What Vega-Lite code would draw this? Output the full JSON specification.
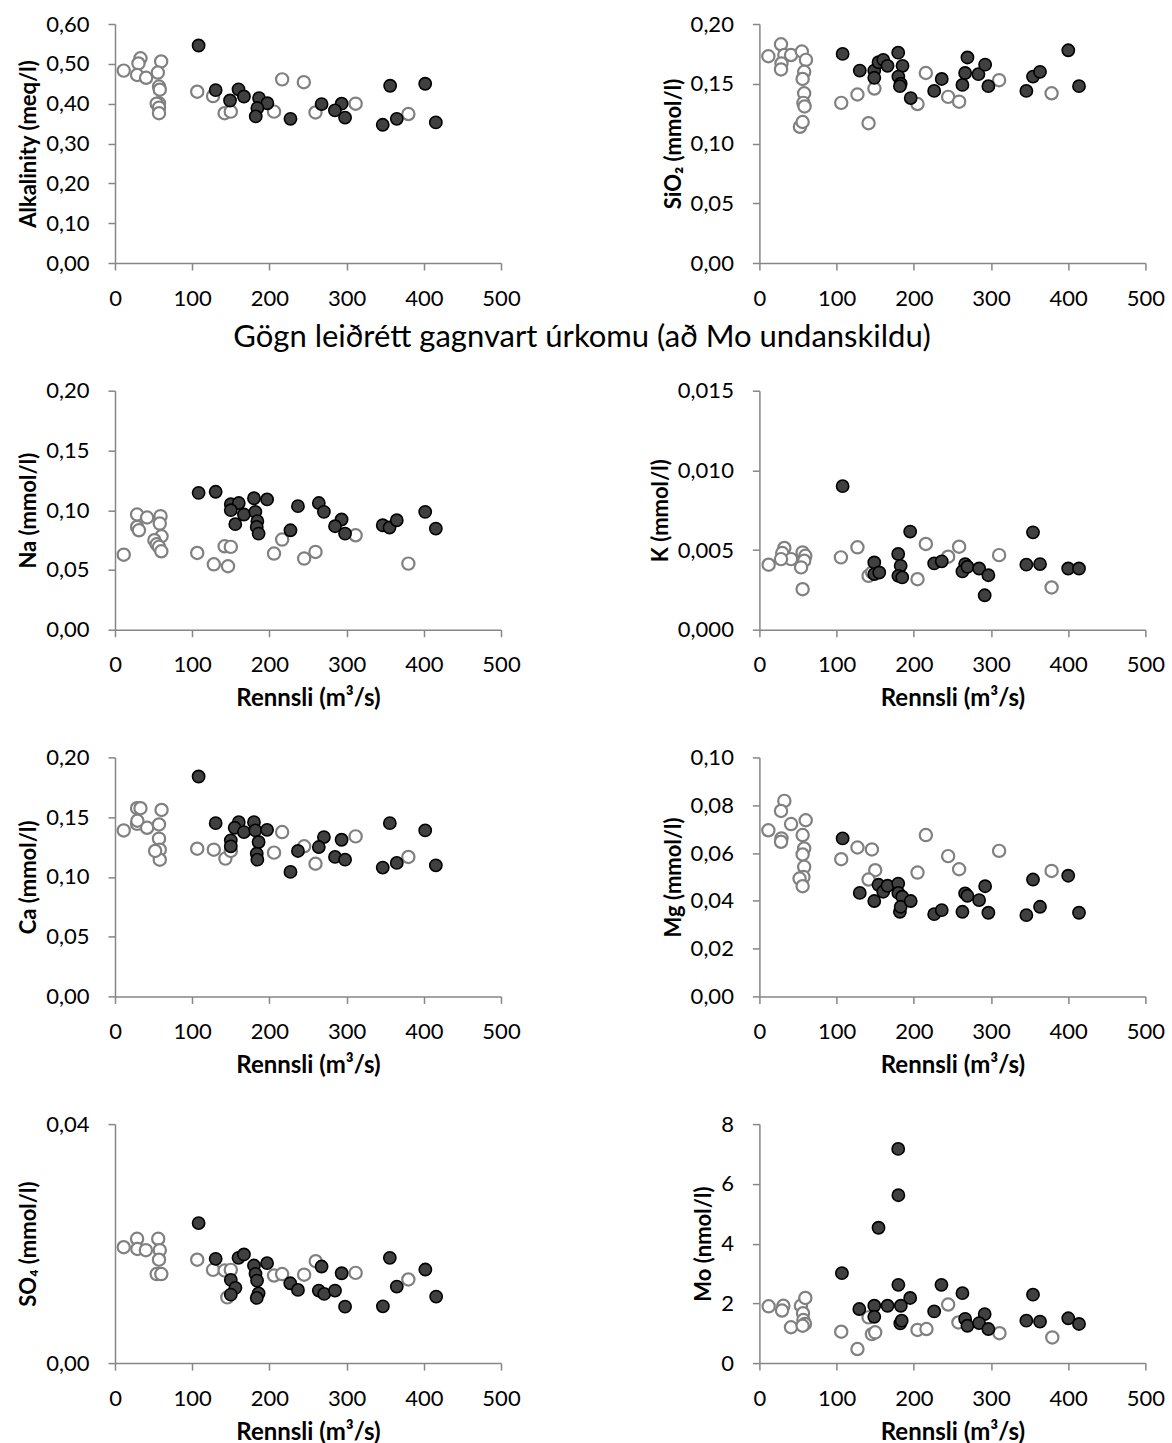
{
  "$schema": "https://vega.github.io/schema/vega-lite/v6.json",
  "padding": {"left": 17, "top": 13, "right": 0, "bottom": 0},
  "background": "#ffffff",
  "config": {
    "view": {"stroke": null},
    "font": "Lato",
    "axis": {
      "grid": false,
      "domainColor": "#868686",
      "domainWidth": 1.5,
      "tickColor": "#868686",
      "tickWidth": 1.5,
      "tickSize": 7,
      "labelFont": "Lato",
      "labelFontSize": 22,
      "labelColor": "#000000",
      "labelOverlap": false,
      "labelFlush": false,
      "labelBound": false,
      "titleFont": "Lato",
      "titleFontSize": 22,
      "titleFontWeight": "bold",
      "titleColor": "#000000"
    },
    "axisY": {"labelPadding": 19, "titlePadding": 5},
    "axisX": {"labelPadding": 18, "titlePadding": 11, "titleFontSize": 24},
    "title": {"font": "Lato", "fontSize": 31, "fontWeight": "normal", "color": "#000000"}
  },
  "datasets": {
    "A": [
      {"x": 11.3, "v": 0.483, "g": "o"}, {"x": 33, "v": 0.514, "g": "o"}, {"x": 30.4, "v": 0.501, "g": "o"}, {"x": 28.6, "v": 0.472, "g": "o"}, {"x": 40.3, "v": 0.465, "g": "o"}, {"x": 59.8, "v": 0.506, "g": "o"}, {"x": 55.5, "v": 0.478, "g": "o"}, {"x": 57, "v": 0.443, "g": "o"}, {"x": 58, "v": 0.435, "g": "o"}, {"x": 57, "v": 0.401, "g": "o"}, {"x": 54, "v": 0.40, "g": "o"}, {"x": 57, "v": 0.39, "g": "o"}, {"x": 57, "v": 0.376, "g": "o"}, {"x": 106.5, "v": 0.430, "g": "o"}, {"x": 127, "v": 0.419, "g": "o"}, {"x": 142, "v": 0.376, "g": "o"}, {"x": 150, "v": 0.380, "g": "o"}, {"x": 206, "v": 0.38, "g": "o"}, {"x": 216.5, "v": 0.461, "g": "o"}, {"x": 244.6, "v": 0.454, "g": "o"}, {"x": 259.7, "v": 0.378, "g": "o"}, {"x": 311.7, "v": 0.40, "g": "o"}, {"x": 380, "v": 0.374, "g": "o"},
      {"x": 108.3, "v": 0.546, "g": "f"}, {"x": 130.4, "v": 0.434, "g": "f"}, {"x": 160, "v": 0.436, "g": "f"}, {"x": 149, "v": 0.408, "g": "f"}, {"x": 167, "v": 0.418, "g": "f"}, {"x": 186.6, "v": 0.414, "g": "f"}, {"x": 197.4, "v": 0.401, "g": "f"}, {"x": 184.4, "v": 0.389, "g": "f"}, {"x": 182.3, "v": 0.368, "g": "f"}, {"x": 227.3, "v": 0.362, "g": "f"}, {"x": 267.6, "v": 0.399, "g": "f"}, {"x": 293.6, "v": 0.40, "g": "f"}, {"x": 284.9, "v": 0.383, "g": "f"}, {"x": 298, "v": 0.365, "g": "f"}, {"x": 346.8, "v": 0.347, "g": "f"}, {"x": 365, "v": 0.362, "g": "f"}, {"x": 356.4, "v": 0.445, "g": "f"}, {"x": 401.8, "v": 0.45, "g": "f"}, {"x": 415.6, "v": 0.353, "g": "f"}
    ],
    "S": [
      {"x": 11.6, "v": 0.173, "g": "o"}, {"x": 28, "v": 0.183, "g": "o"}, {"x": 32.3, "v": 0.174, "g": "o"}, {"x": 41, "v": 0.174, "g": "o"}, {"x": 28.6, "v": 0.167, "g": "o"}, {"x": 28, "v": 0.162, "g": "o"}, {"x": 55, "v": 0.177, "g": "o"}, {"x": 60.3, "v": 0.170, "g": "o"}, {"x": 58, "v": 0.160, "g": "o"}, {"x": 56, "v": 0.154, "g": "o"}, {"x": 58, "v": 0.142, "g": "o"}, {"x": 57, "v": 0.134, "g": "o"}, {"x": 58.5, "v": 0.131, "g": "o"}, {"x": 52.5, "v": 0.114, "g": "o"}, {"x": 56, "v": 0.118, "g": "o"}, {"x": 106, "v": 0.134, "g": "o"}, {"x": 127, "v": 0.141, "g": "o"}, {"x": 149, "v": 0.146, "g": "o"}, {"x": 141.4, "v": 0.117, "g": "o"}, {"x": 204.8, "v": 0.133, "g": "o"}, {"x": 215.6, "v": 0.159, "g": "o"}, {"x": 244.5, "v": 0.139, "g": "o"}, {"x": 258.7, "v": 0.135, "g": "o"}, {"x": 310.5, "v": 0.153, "g": "o"}, {"x": 378.5, "v": 0.142, "g": "o"},
      {"x": 107.8, "v": 0.175, "g": "f"}, {"x": 130, "v": 0.161, "g": "f"}, {"x": 148.8, "v": 0.161, "g": "f"}, {"x": 148.8, "v": 0.155, "g": "f"}, {"x": 154.3, "v": 0.168, "g": "f"}, {"x": 160.4, "v": 0.170, "g": "f"}, {"x": 166, "v": 0.165, "g": "f"}, {"x": 179.8, "v": 0.176, "g": "f"}, {"x": 185.4, "v": 0.165, "g": "f"}, {"x": 180, "v": 0.156, "g": "f"}, {"x": 183, "v": 0.150, "g": "f"}, {"x": 182, "v": 0.148, "g": "f"}, {"x": 196, "v": 0.138, "g": "f"}, {"x": 226.4, "v": 0.144, "g": "f"}, {"x": 236.2, "v": 0.154, "g": "f"}, {"x": 263, "v": 0.149, "g": "f"}, {"x": 266.5, "v": 0.159, "g": "f"}, {"x": 269.5, "v": 0.172, "g": "f"}, {"x": 283.7, "v": 0.158, "g": "f"}, {"x": 292.4, "v": 0.166, "g": "f"}, {"x": 296.6, "v": 0.148, "g": "f"}, {"x": 345.8, "v": 0.144, "g": "f"}, {"x": 354.4, "v": 0.156, "g": "f"}, {"x": 363.5, "v": 0.160, "g": "f"}, {"x": 400.1, "v": 0.178, "g": "f"}, {"x": 414, "v": 0.148, "g": "f"}
    ],
    "N": [
      {"x": 11.3, "v": 0.0628, "g": "o"}, {"x": 28.6, "v": 0.0964, "g": "o"}, {"x": 41.6, "v": 0.0939, "g": "o"}, {"x": 28.6, "v": 0.086, "g": "o"}, {"x": 31, "v": 0.0832, "g": "o"}, {"x": 59, "v": 0.095, "g": "o"}, {"x": 58, "v": 0.0888, "g": "o"}, {"x": 60.3, "v": 0.0782, "g": "o"}, {"x": 51, "v": 0.0749, "g": "o"}, {"x": 54, "v": 0.0715, "g": "o"}, {"x": 57, "v": 0.0693, "g": "o"}, {"x": 60, "v": 0.0656, "g": "o"}, {"x": 106.5, "v": 0.0642, "g": "o"}, {"x": 128, "v": 0.0547, "g": "o"}, {"x": 142, "v": 0.0698, "g": "o"}, {"x": 150, "v": 0.0693, "g": "o"}, {"x": 146.4, "v": 0.0531, "g": "o"}, {"x": 206, "v": 0.0637, "g": "o"}, {"x": 216.5, "v": 0.0754, "g": "o"}, {"x": 245, "v": 0.0595, "g": "o"}, {"x": 259.7, "v": 0.0651, "g": "o"}, {"x": 311.7, "v": 0.079, "g": "o"}, {"x": 380, "v": 0.0553, "g": "o"},
      {"x": 108.3, "v": 0.1145, "g": "f"}, {"x": 130.4, "v": 0.1154, "g": "f"}, {"x": 150, "v": 0.105, "g": "f"}, {"x": 160.3, "v": 0.106, "g": "f"}, {"x": 150, "v": 0.100, "g": "f"}, {"x": 180, "v": 0.110, "g": "f"}, {"x": 197, "v": 0.109, "g": "f"}, {"x": 167, "v": 0.0964, "g": "f"}, {"x": 181.8, "v": 0.0986, "g": "f"}, {"x": 155.8, "v": 0.0883, "g": "f"}, {"x": 184.4, "v": 0.0908, "g": "f"}, {"x": 183.6, "v": 0.086, "g": "f"}, {"x": 186, "v": 0.0804, "g": "f"}, {"x": 237, "v": 0.1034, "g": "f"}, {"x": 227.3, "v": 0.0832, "g": "f"}, {"x": 264, "v": 0.106, "g": "f"}, {"x": 270.6, "v": 0.0986, "g": "f"}, {"x": 293.5, "v": 0.0922, "g": "f"}, {"x": 285, "v": 0.0866, "g": "f"}, {"x": 298, "v": 0.0804, "g": "f"}, {"x": 346.8, "v": 0.0874, "g": "f"}, {"x": 355.6, "v": 0.0855, "g": "f"}, {"x": 365, "v": 0.0916, "g": "f"}, {"x": 401.8, "v": 0.0986, "g": "f"}, {"x": 415.6, "v": 0.0846, "g": "f"}
    ],
    "K": [
      {"x": 12, "v": 0.00408, "g": "o"}, {"x": 32.3, "v": 0.00513, "g": "o"}, {"x": 29.6, "v": 0.00481, "g": "o"}, {"x": 41, "v": 0.00443, "g": "o"}, {"x": 28, "v": 0.00443, "g": "o"}, {"x": 56, "v": 0.00485, "g": "o"}, {"x": 59.5, "v": 0.00464, "g": "o"}, {"x": 58, "v": 0.00433, "g": "o"}, {"x": 54, "v": 0.00391, "g": "o"}, {"x": 56, "v": 0.00254, "g": "o"}, {"x": 105.6, "v": 0.00454, "g": "o"}, {"x": 127, "v": 0.00517, "g": "o"}, {"x": 141.4, "v": 0.00338, "g": "o"}, {"x": 146, "v": 0.00359, "g": "o"}, {"x": 204.8, "v": 0.00317, "g": "o"}, {"x": 215.6, "v": 0.00538, "g": "o"}, {"x": 244.5, "v": 0.00458, "g": "o"}, {"x": 258.7, "v": 0.00521, "g": "o"}, {"x": 310.5, "v": 0.00468, "g": "o"}, {"x": 378.5, "v": 0.00265, "g": "o"},
      {"x": 107.8, "v": 0.00901, "g": "f"}, {"x": 195.3, "v": 0.00616, "g": "f"}, {"x": 354.4, "v": 0.00611, "g": "f"}, {"x": 148.8, "v": 0.00422, "g": "f"}, {"x": 179.8, "v": 0.00475, "g": "f"}, {"x": 183, "v": 0.00401, "g": "f"}, {"x": 148.8, "v": 0.00349, "g": "f"}, {"x": 155.2, "v": 0.00359, "g": "f"}, {"x": 180, "v": 0.00338, "g": "f"}, {"x": 185, "v": 0.00328, "g": "f"}, {"x": 226.4, "v": 0.00416, "g": "f"}, {"x": 236.2, "v": 0.00429, "g": "f"}, {"x": 266.5, "v": 0.00412, "g": "f"}, {"x": 263, "v": 0.00366, "g": "f"}, {"x": 269.5, "v": 0.00395, "g": "f"}, {"x": 284.6, "v": 0.00384, "g": "f"}, {"x": 296.6, "v": 0.00342, "g": "f"}, {"x": 291.8, "v": 0.00216, "g": "f"}, {"x": 345.8, "v": 0.00408, "g": "f"}, {"x": 363.5, "v": 0.00412, "g": "f"}, {"x": 400, "v": 0.00384, "g": "f"}, {"x": 414, "v": 0.00384, "g": "f"}
    ],
    "C": [
      {"x": 11.3, "v": 0.1389, "g": "o"}, {"x": 28.6, "v": 0.1575, "g": "o"}, {"x": 33, "v": 0.1575, "g": "o"}, {"x": 28.6, "v": 0.1444, "g": "o"}, {"x": 29, "v": 0.147, "g": "o"}, {"x": 41.6, "v": 0.1411, "g": "o"}, {"x": 60.3, "v": 0.156, "g": "o"}, {"x": 57, "v": 0.1439, "g": "o"}, {"x": 57, "v": 0.132, "g": "o"}, {"x": 58, "v": 0.1228, "g": "o"}, {"x": 58, "v": 0.1144, "g": "o"}, {"x": 52, "v": 0.1217, "g": "o"}, {"x": 106.5, "v": 0.1236, "g": "o"}, {"x": 128, "v": 0.1228, "g": "o"}, {"x": 143, "v": 0.1153, "g": "o"}, {"x": 150, "v": 0.1217, "g": "o"}, {"x": 216.5, "v": 0.1375, "g": "o"}, {"x": 206, "v": 0.1203, "g": "o"}, {"x": 245, "v": 0.1256, "g": "o"}, {"x": 259.7, "v": 0.111, "g": "o"}, {"x": 311.7, "v": 0.1339, "g": "o"}, {"x": 380, "v": 0.1167, "g": "o"},
      {"x": 108.3, "v": 0.184, "g": "f"}, {"x": 130.4, "v": 0.145, "g": "f"}, {"x": 160.3, "v": 0.1458, "g": "f"}, {"x": 155, "v": 0.1411, "g": "f"}, {"x": 167, "v": 0.1375, "g": "f"}, {"x": 180, "v": 0.1458, "g": "f"}, {"x": 181.8, "v": 0.1389, "g": "f"}, {"x": 197, "v": 0.1394, "g": "f"}, {"x": 150, "v": 0.1306, "g": "f"}, {"x": 150, "v": 0.1256, "g": "f"}, {"x": 186, "v": 0.1292, "g": "f"}, {"x": 183.6, "v": 0.1194, "g": "f"}, {"x": 184.4, "v": 0.1144, "g": "f"}, {"x": 237, "v": 0.1217, "g": "f"}, {"x": 227.3, "v": 0.1042, "g": "f"}, {"x": 270.6, "v": 0.1333, "g": "f"}, {"x": 264, "v": 0.125, "g": "f"}, {"x": 293.5, "v": 0.1311, "g": "f"}, {"x": 285, "v": 0.1167, "g": "f"}, {"x": 298, "v": 0.1144, "g": "f"}, {"x": 356, "v": 0.145, "g": "f"}, {"x": 401.8, "v": 0.1389, "g": "f"}, {"x": 346.8, "v": 0.1078, "g": "f"}, {"x": 365, "v": 0.1117, "g": "f"}, {"x": 415.6, "v": 0.1097, "g": "f"}
    ],
    "M": [
      {"x": 11.6, "v": 0.0695, "g": "o"}, {"x": 32.3, "v": 0.0818, "g": "o"}, {"x": 28, "v": 0.0776, "g": "o"}, {"x": 41, "v": 0.0721, "g": "o"}, {"x": 28.6, "v": 0.0661, "g": "o"}, {"x": 28, "v": 0.0647, "g": "o"}, {"x": 60, "v": 0.0737, "g": "o"}, {"x": 56, "v": 0.0675, "g": "o"}, {"x": 58, "v": 0.0619, "g": "o"}, {"x": 56, "v": 0.0594, "g": "o"}, {"x": 58, "v": 0.0542, "g": "o"}, {"x": 57, "v": 0.05, "g": "o"}, {"x": 52, "v": 0.0493, "g": "o"}, {"x": 56, "v": 0.0461, "g": "o"}, {"x": 106, "v": 0.0574, "g": "o"}, {"x": 127, "v": 0.0623, "g": "o"}, {"x": 145.7, "v": 0.0615, "g": "o"}, {"x": 150, "v": 0.0528, "g": "o"}, {"x": 141.4, "v": 0.0489, "g": "o"}, {"x": 204.8, "v": 0.0518, "g": "o"}, {"x": 215.6, "v": 0.0675, "g": "o"}, {"x": 244.5, "v": 0.0587, "g": "o"}, {"x": 258.7, "v": 0.0532, "g": "o"}, {"x": 310.5, "v": 0.0609, "g": "o"}, {"x": 378.5, "v": 0.0525, "g": "o"},
      {"x": 107.8, "v": 0.0661, "g": "f"}, {"x": 130, "v": 0.0433, "g": "f"}, {"x": 148.8, "v": 0.0399, "g": "f"}, {"x": 154.3, "v": 0.0467, "g": "f"}, {"x": 160.4, "v": 0.0438, "g": "f"}, {"x": 166, "v": 0.0463, "g": "f"}, {"x": 179.8, "v": 0.0472, "g": "f"}, {"x": 180, "v": 0.0433, "g": "f"}, {"x": 185, "v": 0.0417, "g": "f"}, {"x": 182, "v": 0.0354, "g": "f"}, {"x": 183, "v": 0.0375, "g": "f"}, {"x": 196, "v": 0.0399, "g": "f"}, {"x": 226.4, "v": 0.0344, "g": "f"}, {"x": 236.2, "v": 0.0361, "g": "f"}, {"x": 263, "v": 0.0354, "g": "f"}, {"x": 266.5, "v": 0.0431, "g": "f"}, {"x": 269.5, "v": 0.0421, "g": "f"}, {"x": 284.6, "v": 0.0403, "g": "f"}, {"x": 292.4, "v": 0.0461, "g": "f"}, {"x": 296.6, "v": 0.035, "g": "f"}, {"x": 345.8, "v": 0.034, "g": "f"}, {"x": 354.4, "v": 0.0489, "g": "f"}, {"x": 363.5, "v": 0.0375, "g": "f"}, {"x": 400, "v": 0.0505, "g": "f"}, {"x": 414, "v": 0.035, "g": "f"}
    ],
    "O": [
      {"x": 11.3, "v": 0.0194, "g": "o"}, {"x": 28.6, "v": 0.0208, "g": "o"}, {"x": 29, "v": 0.0191, "g": "o"}, {"x": 40, "v": 0.0189, "g": "o"}, {"x": 56, "v": 0.0208, "g": "o"}, {"x": 58, "v": 0.0189, "g": "o"}, {"x": 57, "v": 0.0173, "g": "o"}, {"x": 54, "v": 0.0149, "g": "o"}, {"x": 60, "v": 0.0149, "g": "o"}, {"x": 106.5, "v": 0.0173, "g": "o"}, {"x": 127, "v": 0.0156, "g": "o"}, {"x": 142, "v": 0.0155, "g": "o"}, {"x": 150, "v": 0.0156, "g": "o"}, {"x": 145.5, "v": 0.011, "g": "o"}, {"x": 206, "v": 0.01465, "g": "o"}, {"x": 216.5, "v": 0.0149, "g": "o"}, {"x": 245, "v": 0.0148, "g": "o"}, {"x": 260, "v": 0.01705, "g": "o"}, {"x": 311.7, "v": 0.0151, "g": "o"}, {"x": 380, "v": 0.014, "g": "o"},
      {"x": 108.3, "v": 0.02343, "g": "f"}, {"x": 130.4, "v": 0.01745, "g": "f"}, {"x": 160, "v": 0.01762, "g": "f"}, {"x": 167, "v": 0.01818, "g": "f"}, {"x": 180, "v": 0.01633, "g": "f"}, {"x": 197, "v": 0.01672, "g": "f"}, {"x": 182, "v": 0.01494, "g": "f"}, {"x": 184, "v": 0.01381, "g": "f"}, {"x": 150, "v": 0.01393, "g": "f"}, {"x": 156, "v": 0.01259, "g": "f"}, {"x": 150, "v": 0.01146, "g": "f"}, {"x": 186, "v": 0.01168, "g": "f"}, {"x": 183.6, "v": 0.01091, "g": "f"}, {"x": 227, "v": 0.01336, "g": "f"}, {"x": 237, "v": 0.01225, "g": "f"}, {"x": 267.6, "v": 0.01616, "g": "f"}, {"x": 264, "v": 0.01214, "g": "f"}, {"x": 271, "v": 0.01158, "g": "f"}, {"x": 293.6, "v": 0.01504, "g": "f"}, {"x": 285, "v": 0.01214, "g": "f"}, {"x": 298, "v": 0.00945, "g": "f"}, {"x": 356, "v": 0.01762, "g": "f"}, {"x": 402, "v": 0.01566, "g": "f"}, {"x": 365, "v": 0.01281, "g": "f"}, {"x": 347, "v": 0.0095, "g": "f"}, {"x": 416, "v": 0.01113, "g": "f"}
    ],
    "Mo": [
      {"x": 12, "v": 1.9, "g": "o"}, {"x": 31, "v": 1.92, "g": "o"}, {"x": 29.3, "v": 1.76, "g": "o"}, {"x": 40.9, "v": 1.2, "g": "o"}, {"x": 53.8, "v": 1.92, "g": "o"}, {"x": 59.5, "v": 2.18, "g": "o"}, {"x": 56.5, "v": 1.67, "g": "o"}, {"x": 57, "v": 1.44, "g": "o"}, {"x": 59, "v": 1.31, "g": "o"}, {"x": 56, "v": 1.25, "g": "o"}, {"x": 106, "v": 1.05, "g": "o"}, {"x": 127, "v": 0.47, "g": "o"}, {"x": 141.4, "v": 1.53, "g": "o"}, {"x": 145.7, "v": 0.97, "g": "o"}, {"x": 150, "v": 1.03, "g": "o"}, {"x": 204.8, "v": 1.11, "g": "o"}, {"x": 216.4, "v": 1.14, "g": "o"}, {"x": 244.5, "v": 1.96, "g": "o"}, {"x": 257.8, "v": 1.36, "g": "o"}, {"x": 311, "v": 1.0, "g": "o"}, {"x": 379.4, "v": 0.86, "g": "o"},
      {"x": 179.8, "v": 7.17, "g": "f"}, {"x": 180, "v": 5.62, "g": "f"}, {"x": 154.3, "v": 4.53, "g": "f"}, {"x": 106.9, "v": 3.01, "g": "f"}, {"x": 180, "v": 2.62, "g": "f"}, {"x": 235.8, "v": 2.62, "g": "f"}, {"x": 263, "v": 2.34, "g": "f"}, {"x": 354.4, "v": 2.29, "g": "f"}, {"x": 195.3, "v": 2.18, "g": "f"}, {"x": 183.2, "v": 1.92, "g": "f"}, {"x": 166, "v": 1.92, "g": "f"}, {"x": 148.8, "v": 1.92, "g": "f"}, {"x": 129.4, "v": 1.81, "g": "f"}, {"x": 148.8, "v": 1.55, "g": "f"}, {"x": 226.4, "v": 1.73, "g": "f"}, {"x": 291.8, "v": 1.64, "g": "f"}, {"x": 266.5, "v": 1.48, "g": "f"}, {"x": 269.5, "v": 1.25, "g": "f"}, {"x": 284.6, "v": 1.34, "g": "f"}, {"x": 296.6, "v": 1.14, "g": "f"}, {"x": 345.8, "v": 1.42, "g": "f"}, {"x": 363.5, "v": 1.39, "g": "f"}, {"x": 400.1, "v": 1.5, "g": "f"}, {"x": 414, "v": 1.31, "g": "f"}, {"x": 182.5, "v": 1.33, "g": "f"}, {"x": 184.3, "v": 1.42, "g": "f"}
    ]
  },
  "columns": 2,
  "spacing": {"row": 127.7, "column": 258.4},
  "bounds": "flush",
  "concat": [
    {
      "width": 386, "height": 239,
      "data": {"name": "A"},
      "mark": {"type": "circle", "size": 150, "opacity": 1},
      "encoding": {
        "x": {"field": "x", "type": "quantitative", "scale": {"domain": [0, 500], "nice": false}, "axis": {"values": [0, 100, 200, 300, 400, 500], "title": null}},
        "y": {"field": "v", "type": "quantitative", "scale": {"domain": [0, 0.6], "nice": false}, "axis": {"values": [0, 0.1, 0.2, 0.3, 0.4, 0.5, 0.6], "title": "Alkalinity (meq/l)", "labelExpr": "replace(format(datum.value, '.2f'), '.', ',')"}},
        "fill": {"field": "g", "type": "nominal", "scale": {"domain": ["o", "f"], "range": ["#ffffff", "#404040"]}, "legend": null},
        "stroke": {"field": "g", "type": "nominal", "scale": {"domain": ["o", "f"], "range": ["#808080", "#000000"]}, "legend": null},
        "strokeWidth": {"field": "g", "type": "ordinal", "scale": {"domain": ["o", "f"], "range": [2.2, 1.6]}, "legend": null}
      }
    },
    {
      "width": 386, "height": 239,
      "data": {"name": "S"},
      "mark": {"type": "circle", "size": 150, "opacity": 1},
      "encoding": {
        "x": {"field": "x", "type": "quantitative", "scale": {"domain": [0, 500], "nice": false}, "axis": {"values": [0, 100, 200, 300, 400, 500], "title": null}},
        "y": {"field": "v", "type": "quantitative", "scale": {"domain": [0, 0.2], "nice": false}, "axis": {"values": [0, 0.05, 0.1, 0.15, 0.2], "title": "SiO₂ (mmol/l)", "labelExpr": "replace(format(datum.value, '.2f'), '.', ',')"}},
        "fill": {"field": "g", "type": "nominal", "scale": {"domain": ["o", "f"], "range": ["#ffffff", "#404040"]}, "legend": null},
        "stroke": {"field": "g", "type": "nominal", "scale": {"domain": ["o", "f"], "range": ["#808080", "#000000"]}, "legend": null},
        "strokeWidth": {"field": "g", "type": "ordinal", "scale": {"domain": ["o", "f"], "range": [2.2, 1.6]}, "legend": null}
      }
    },
    {
      "width": 386, "height": 239,
      "title": {"text": "Gögn leiðrétt gagnvart úrkomu (að Mo undanskildu)", "anchor": "middle", "frame": "group", "offset": 26, "dx": 274},
      "data": {"name": "N"},
      "mark": {"type": "circle", "size": 150, "opacity": 1},
      "encoding": {
        "x": {"field": "x", "type": "quantitative", "scale": {"domain": [0, 500], "nice": false}, "axis": {"values": [0, 100, 200, 300, 400, 500], "title": "Rennsli (m³/s)"}},
        "y": {"field": "v", "type": "quantitative", "scale": {"domain": [0, 0.2], "nice": false}, "axis": {"values": [0, 0.05, 0.1, 0.15, 0.2], "title": "Na (mmol/l)", "labelExpr": "replace(format(datum.value, '.2f'), '.', ',')"}},
        "fill": {"field": "g", "type": "nominal", "scale": {"domain": ["o", "f"], "range": ["#ffffff", "#404040"]}, "legend": null},
        "stroke": {"field": "g", "type": "nominal", "scale": {"domain": ["o", "f"], "range": ["#808080", "#000000"]}, "legend": null},
        "strokeWidth": {"field": "g", "type": "ordinal", "scale": {"domain": ["o", "f"], "range": [2.2, 1.6]}, "legend": null}
      }
    },
    {
      "width": 386, "height": 239,
      "data": {"name": "K"},
      "mark": {"type": "circle", "size": 150, "opacity": 1},
      "encoding": {
        "x": {"field": "x", "type": "quantitative", "scale": {"domain": [0, 500], "nice": false}, "axis": {"values": [0, 100, 200, 300, 400, 500], "title": "Rennsli (m³/s)"}},
        "y": {"field": "v", "type": "quantitative", "scale": {"domain": [0, 0.015], "nice": false}, "axis": {"values": [0, 0.005, 0.01, 0.015], "title": "K (mmol/l)", "labelExpr": "replace(format(datum.value, '.3f'), '.', ',')"}},
        "fill": {"field": "g", "type": "nominal", "scale": {"domain": ["o", "f"], "range": ["#ffffff", "#404040"]}, "legend": null},
        "stroke": {"field": "g", "type": "nominal", "scale": {"domain": ["o", "f"], "range": ["#808080", "#000000"]}, "legend": null},
        "strokeWidth": {"field": "g", "type": "ordinal", "scale": {"domain": ["o", "f"], "range": [2.2, 1.6]}, "legend": null}
      }
    },
    {
      "width": 386, "height": 239,
      "data": {"name": "C"},
      "mark": {"type": "circle", "size": 150, "opacity": 1},
      "encoding": {
        "x": {"field": "x", "type": "quantitative", "scale": {"domain": [0, 500], "nice": false}, "axis": {"values": [0, 100, 200, 300, 400, 500], "title": "Rennsli (m³/s)"}},
        "y": {"field": "v", "type": "quantitative", "scale": {"domain": [0, 0.2], "nice": false}, "axis": {"values": [0, 0.05, 0.1, 0.15, 0.2], "title": "Ca (mmol/l)", "labelExpr": "replace(format(datum.value, '.2f'), '.', ',')"}},
        "fill": {"field": "g", "type": "nominal", "scale": {"domain": ["o", "f"], "range": ["#ffffff", "#404040"]}, "legend": null},
        "stroke": {"field": "g", "type": "nominal", "scale": {"domain": ["o", "f"], "range": ["#808080", "#000000"]}, "legend": null},
        "strokeWidth": {"field": "g", "type": "ordinal", "scale": {"domain": ["o", "f"], "range": [2.2, 1.6]}, "legend": null}
      }
    },
    {
      "width": 386, "height": 239,
      "data": {"name": "M"},
      "mark": {"type": "circle", "size": 150, "opacity": 1},
      "encoding": {
        "x": {"field": "x", "type": "quantitative", "scale": {"domain": [0, 500], "nice": false}, "axis": {"values": [0, 100, 200, 300, 400, 500], "title": "Rennsli (m³/s)"}},
        "y": {"field": "v", "type": "quantitative", "scale": {"domain": [0, 0.1], "nice": false}, "axis": {"values": [0, 0.02, 0.04, 0.06, 0.08, 0.1], "title": "Mg (mmol/l)", "labelExpr": "replace(format(datum.value, '.2f'), '.', ',')"}},
        "fill": {"field": "g", "type": "nominal", "scale": {"domain": ["o", "f"], "range": ["#ffffff", "#404040"]}, "legend": null},
        "stroke": {"field": "g", "type": "nominal", "scale": {"domain": ["o", "f"], "range": ["#808080", "#000000"]}, "legend": null},
        "strokeWidth": {"field": "g", "type": "ordinal", "scale": {"domain": ["o", "f"], "range": [2.2, 1.6]}, "legend": null}
      }
    },
    {
      "width": 386, "height": 239,
      "data": {"name": "O"},
      "mark": {"type": "circle", "size": 150, "opacity": 1},
      "encoding": {
        "x": {"field": "x", "type": "quantitative", "scale": {"domain": [0, 500], "nice": false}, "axis": {"values": [0, 100, 200, 300, 400, 500], "title": "Rennsli (m³/s)"}},
        "y": {"field": "v", "type": "quantitative", "scale": {"domain": [0, 0.04], "nice": false}, "axis": {"values": [0, 0.04], "title": "SO₄ (mmol/l)", "labelExpr": "replace(format(datum.value, '.2f'), '.', ',')"}},
        "fill": {"field": "g", "type": "nominal", "scale": {"domain": ["o", "f"], "range": ["#ffffff", "#404040"]}, "legend": null},
        "stroke": {"field": "g", "type": "nominal", "scale": {"domain": ["o", "f"], "range": ["#808080", "#000000"]}, "legend": null},
        "strokeWidth": {"field": "g", "type": "ordinal", "scale": {"domain": ["o", "f"], "range": [2.2, 1.6]}, "legend": null}
      }
    },
    {
      "width": 386, "height": 239,
      "data": {"name": "Mo"},
      "mark": {"type": "circle", "size": 150, "opacity": 1},
      "encoding": {
        "x": {"field": "x", "type": "quantitative", "scale": {"domain": [0, 500], "nice": false}, "axis": {"values": [0, 100, 200, 300, 400, 500], "title": "Rennsli (m³/s)"}},
        "y": {"field": "v", "type": "quantitative", "scale": {"domain": [0, 8], "nice": false}, "axis": {"values": [0, 2, 4, 6, 8], "title": "Mo (nmol/l)", "format": "d"}},
        "fill": {"field": "g", "type": "nominal", "scale": {"domain": ["o", "f"], "range": ["#ffffff", "#404040"]}, "legend": null},
        "stroke": {"field": "g", "type": "nominal", "scale": {"domain": ["o", "f"], "range": ["#808080", "#000000"]}, "legend": null},
        "strokeWidth": {"field": "g", "type": "ordinal", "scale": {"domain": ["o", "f"], "range": [2.2, 1.6]}, "legend": null}
      }
    }
  ]
}
